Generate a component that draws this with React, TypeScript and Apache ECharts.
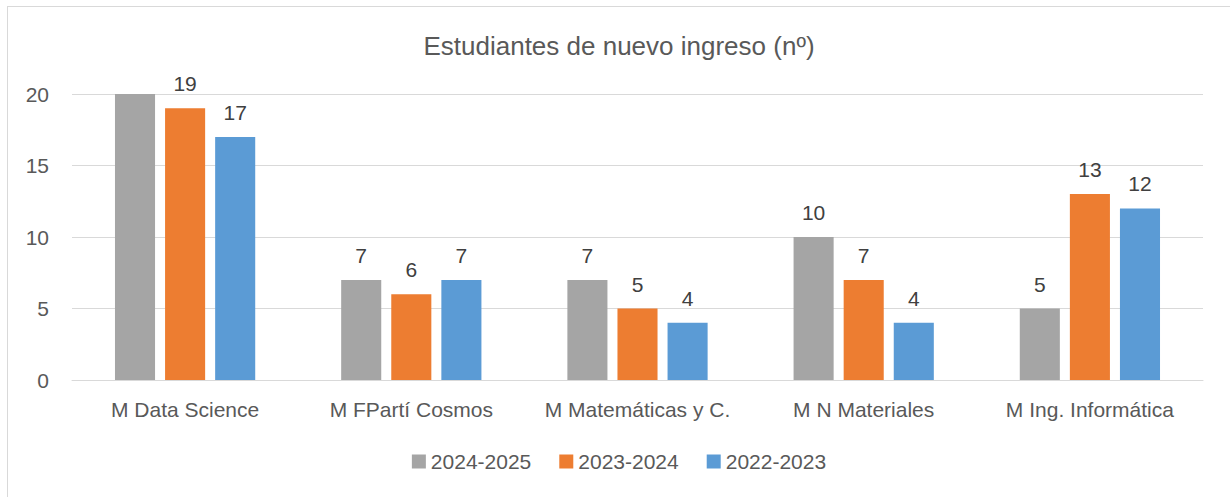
import React, { useEffect, useRef } from "react";
import * as echarts from "echarts";

const categories = ["M Data Science", "M FPartí Cosmos", "M Matemáticas y C.", "M N Materiales", "M Ing. Informática"];
const seriesNames = ["2024-2025", "2023-2024", "2022-2023"];
const values2024 = [20, 7, 7, 10, 5];
const values2023 = [19, 6, 5, 7, 13];
const values2022 = [17, 7, 4, 4, 12];
const colors = ["#A5A5A5", "#ED7D31", "#5B9BD5"];
// labels not shown in the reference (series index, category index)
const hiddenLabels: [number, number][] = [[0, 0]];
const title = "Estudiantes de nuevo ingreso (nº)";

const FONT = "Liberation Sans";

export default function App() {
  const ref = useRef<HTMLDivElement>(null);
  useEffect(() => {
    if (!ref.current) return;
    const chart = echarts.init(ref.current, undefined, { renderer: "svg" });
    const all = [values2024, values2023, values2022];
    chart.setOption({
      animation: false,
      textStyle: { fontFamily: FONT },
      title: {
        text: title,
        left: "center",
        top: 21,
        textStyle: { fontFamily: FONT, fontSize: 26, fontWeight: "normal", color: "#595959" },
      },
      legend: {
        bottom: 20,
        left: "center",
        itemWidth: 14,
        itemHeight: 14,
        itemGap: 28,
        icon: "rect",
        textStyle: { fontFamily: FONT, fontSize: 21, color: "#595959", padding: [0, 0, 0, 0] },
        data: seriesNames,
      },
      grid: { left: 64, right: 27, top: 87, bottom: 117, containLabel: false },
      xAxis: {
        type: "category",
        data: categories,
        axisTick: { show: false },
        axisLine: { lineStyle: { color: "#D9D9D9", width: 1 } },
        axisLabel: {
          fontFamily: FONT,
          fontSize: 21,
          color: "#595959",
          margin: 19,
          interval: 0,
          hideOverlap: false,
        },
      },
      yAxis: {
        type: "value",
        min: 0,
        max: 20,
        interval: 5,
        axisLine: { show: false },
        axisTick: { show: false },
        splitLine: { lineStyle: { color: "#D9D9D9", width: 1 } },
        axisLabel: { fontFamily: FONT, fontSize: 21, color: "#595959", margin: 23 },
      },
      series: seriesNames.map((name, si) => ({
        name,
        type: "bar",
        barGap: "25%",
        barCategoryGap: "38%",
        itemStyle: { color: colors[si] },
        label: {
          show: true,
          position: "top",
          distance: 14,
          fontFamily: FONT,
          fontSize: 21,
          color: "#404040",
        },
        data: all[si].map((v, ci) =>
          hiddenLabels.some(([s, c]) => s === si && c === ci) ? { value: v, label: { show: false } } : v
        ),
      })),
    });
    return () => chart.dispose();
  }, []);
  return (
    <div style={{ position: "fixed", left: 0, top: 0, width: 1230, height: 497, overflow: "hidden", background: "#fff" }}>
      <div
        style={{
          position: "absolute",
          left: 7,
          top: 6,
          width: 1230,
          height: 500,
          borderTop: "1px solid #D9D9D9",
          borderLeft: "1px solid #D9D9D9",
        }}
      >
        <div ref={ref} style={{ width: 1222, height: 490 }} />
      </div>
    </div>
  );
}
